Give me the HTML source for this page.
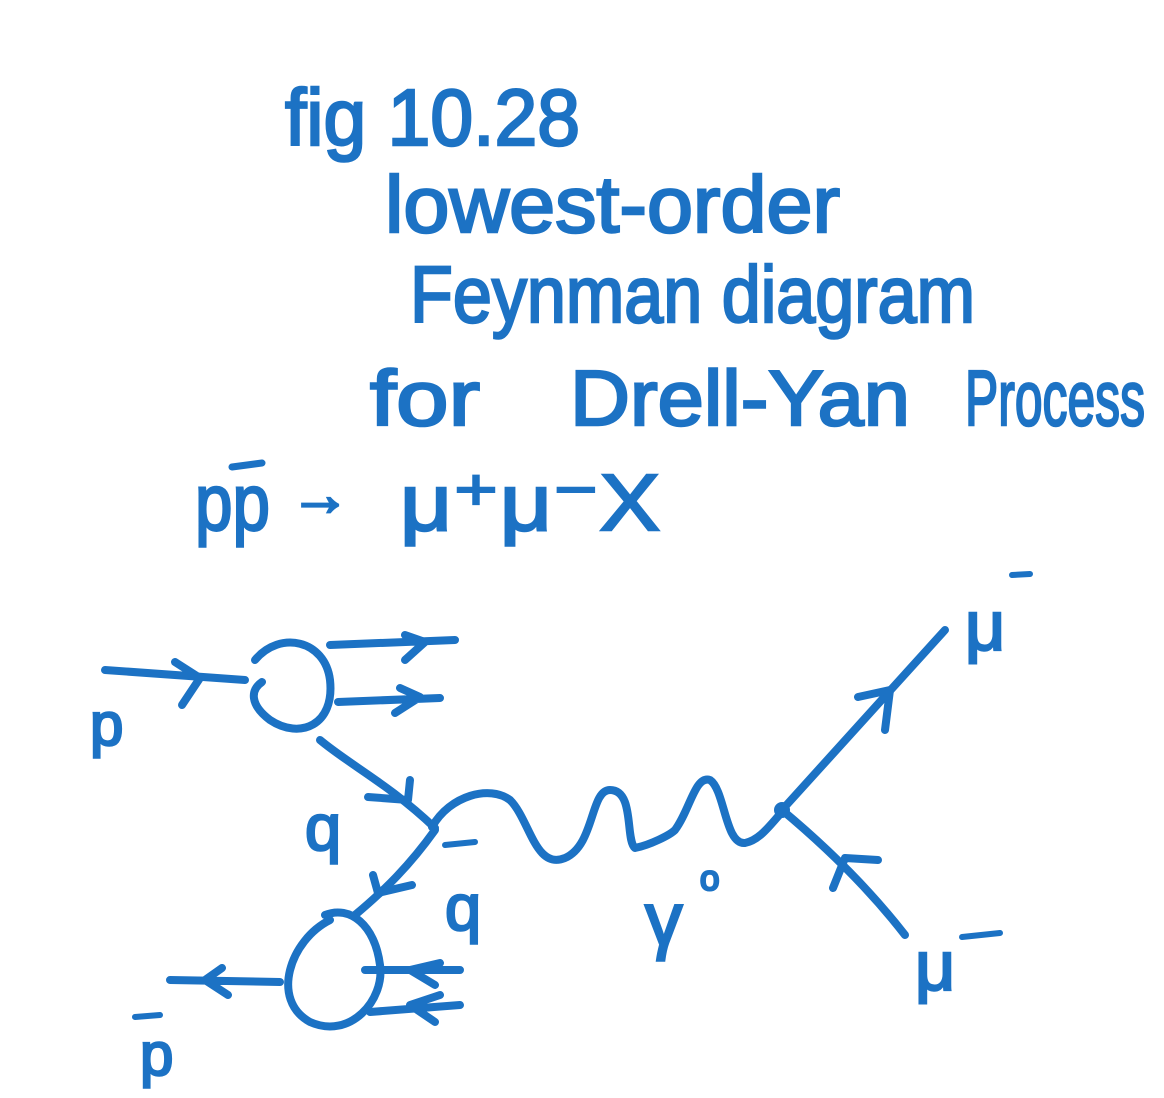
<!DOCTYPE html>
<html><head><meta charset="utf-8"><style>
html,body{margin:0;padding:0;background:#fff;width:1164px;height:1098px;overflow:hidden}
text{font-family:"Liberation Sans",sans-serif;fill:#1c72c4;stroke:#1c72c4;stroke-width:2.5}
</style></head><body>
<svg width="1164" height="1098" viewBox="0 0 1164 1098">
<g>
<text x="285" y="145" font-size="80" textLength="295" lengthAdjust="spacingAndGlyphs">fig 10.28</text>
<text x="385" y="232" font-size="80" textLength="455" lengthAdjust="spacingAndGlyphs">lowest-order</text>
<text x="410" y="322" font-size="80" textLength="565" lengthAdjust="spacingAndGlyphs">Feynman diagram</text>
<text x="370" y="425" font-size="78" textLength="110" lengthAdjust="spacingAndGlyphs">for</text>
<text x="570" y="425" font-size="78" textLength="340" lengthAdjust="spacingAndGlyphs">Drell-Yan</text>
<text x="965" y="425" font-size="78" textLength="180" lengthAdjust="spacingAndGlyphs">Process</text>
<text x="195" y="530" font-size="80" textLength="75" lengthAdjust="spacingAndGlyphs">pp</text>
<line x1="232" y1="467" x2="262" y2="463" stroke="#1c72c4" stroke-width="7" stroke-linecap="round"/>
<text x="290" y="515" font-size="60">→</text>
<text x="400" y="530" font-size="80" textLength="260" lengthAdjust="spacingAndGlyphs">μ⁺μ⁻X</text>
</g>
<g fill="none" stroke="#1c72c4" stroke-width="8" stroke-linecap="round" stroke-linejoin="round">
<path d="M105 670 L245 680"/>
<path d="M175 662 L200 678 L182 705"/>
<path d="M255 660 C280 630 325 640 330 680 C335 725 300 740 270 720 C250 705 250 690 262 682"/>
<path d="M330 645 L455 640 M405 635 L425 642 L405 660"/>
<path d="M338 702 L440 698 M400 688 L420 697 L395 713"/>
<path d="M320 740 C350 765 390 785 435 828"/>
<path d="M368 797 L408 800 L410 780"/>
<path d="M435 830 C410 865 385 890 355 915"/>
<path d="M373 875 L378 893 L412 885"/>
<path d="M330 920 C290 940 270 1000 310 1022 C350 1040 385 1000 380 965 C375 925 350 905 325 915"/>
<path d="M365 970 L460 970 M440 963 L410 970 L435 985"/>
<path d="M370 1012 L460 1005 M440 995 L410 1005 L435 1022"/>
<path d="M280 982 L170 980 M222 968 L205 980 L228 995"/>
<path d="M432 827 C450 795 490 785 510 800 C530 820 535 870 565 858 C595 845 590 790 610 790 C635 790 625 840 635 848 C650 845 670 835 675 830 C690 810 695 775 710 780 C725 790 725 845 745 843 C760 840 770 825 782 812"/>
<path d="M782 810 L945 630"/>
<path d="M858 697 L890 690 L885 730"/>
<path d="M782 810 C830 850 870 890 905 935"/>
<path d="M833 888 L845 858 L878 860"/>
</g>
<circle cx="782" cy="810" r="8" fill="#1c72c4"/>
<g>
<text x="90" y="745" font-size="60">p</text>
<text x="140" y="1075" font-size="60">p</text>
<line x1="135" y1="1017" x2="160" y2="1015" stroke="#1c72c4" stroke-width="6" stroke-linecap="round"/>
<text x="305" y="850" font-size="65">q</text>
<text x="445" y="930" font-size="65">q</text>
<line x1="445" y1="845" x2="475" y2="842" stroke="#1c72c4" stroke-width="6" stroke-linecap="round"/>
<text x="645" y="945" font-size="75">γ</text>
<text x="700" y="890" font-size="35">o</text>
<text x="965" y="650" font-size="70">μ</text>
<line x1="1012" y1="575" x2="1030" y2="574" stroke="#1c72c4" stroke-width="6" stroke-linecap="round"/>
<text x="915" y="990" font-size="70">μ</text>
<line x1="962" y1="937" x2="1000" y2="933" stroke="#1c72c4" stroke-width="6" stroke-linecap="round"/>
</g>
</svg>
</body></html>
